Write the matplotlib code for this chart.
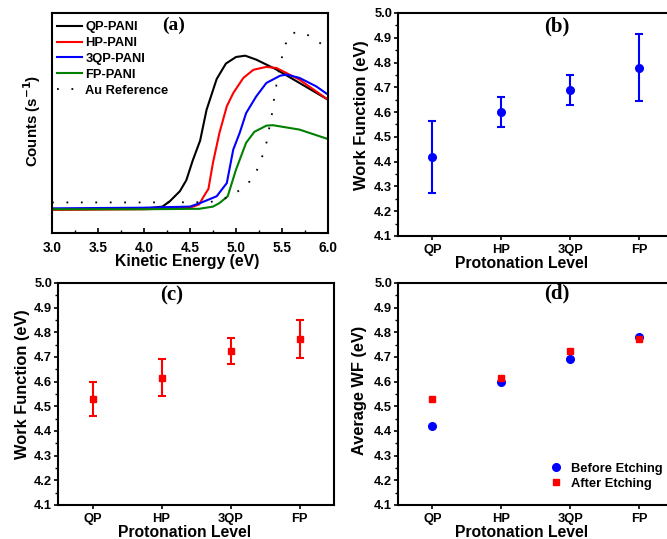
import numpy as np
import matplotlib
matplotlib.use("Agg")
import matplotlib.pyplot as plt
from matplotlib.ticker import MultipleLocator, FormatStrFormatter

plt.rcParams["font.family"] = ["Liberation Sans", "DejaVu Sans"]
plt.rcParams["font.weight"] = "bold"

# ── Panel (a): UPS cut-off spectra (normalised counts) ──
qp_x = [3.0, 4.0, 4.2, 4.28, 4.39, 4.46, 4.53, 4.61, 4.68, 4.79, 4.89, 5.0, 5.1, 5.22, 5.44, 5.69, 6.0]
qp_y = [0.108, 0.11, 0.12, 0.144, 0.19, 0.24, 0.33, 0.42, 0.56, 0.70, 0.77, 0.80, 0.806, 0.788, 0.743, 0.682, 0.606]
hp_x = [3.0, 4.0, 4.5, 4.6, 4.65, 4.7, 4.75, 4.82, 4.9, 4.97, 5.08, 5.19, 5.33, 5.44, 5.69, 6.0]
hp_y = [0.105, 0.108, 0.115, 0.13, 0.167, 0.2, 0.32, 0.455, 0.576, 0.636, 0.705, 0.742, 0.755, 0.75, 0.697, 0.606]
tqp_x = [3.0, 4.0, 4.5, 4.61, 4.79, 4.9, 4.97, 5.04, 5.11, 5.22, 5.33, 5.48, 5.55, 5.69, 5.87, 6.0]
tqp_y = [0.112, 0.115, 0.12, 0.136, 0.167, 0.227, 0.379, 0.455, 0.545, 0.621, 0.682, 0.715, 0.72, 0.705, 0.667, 0.629]
fp_x = [3.0, 4.0, 4.6, 4.75, 4.82, 4.91, 5.0, 5.11, 5.2, 5.33, 5.4, 5.69, 6.0]
fp_y = [0.108, 0.108, 0.11, 0.12, 0.136, 0.167, 0.288, 0.41, 0.46, 0.488, 0.49, 0.47, 0.427]
au_x = [3.0, 4.0, 4.7, 4.85, 5.04, 5.15, 5.23, 5.32, 5.39, 5.41, 5.47, 5.5, 5.54, 5.61, 5.74, 5.86, 5.99]
au_y = [0.139, 0.139, 0.14, 0.15, 0.194, 0.235, 0.288, 0.386, 0.54, 0.60, 0.75, 0.80, 0.86, 0.91, 0.91, 0.88, 0.84]

# ── Panels (b)-(d): work functions ──
levels = ["QP", "HP", "3QP", "FP"]
wf_before = [4.42, 4.60, 4.69, 4.78]
err_before = [0.145, 0.06, 0.06, 0.135]
wf_after = [4.53, 4.615, 4.725, 4.772]
err_after = [0.07, 0.075, 0.053, 0.078]

W, H = 667, 539
fig = plt.figure(figsize=(W / 100, H / 100), dpi=100)


def px_axes(left, top, right, bottom):
    return fig.add_axes([left / W, 1 - bottom / H, (right - left) / W, (bottom - top) / H])


def style_wf(ax, ylabel, tag, tx, ty, xl, yl):
    ax.set_xlim(0.5, 4.5)
    ax.set_ylim(4.1, 5.0)
    ax.set_xticks(range(1, 5))
    ax.set_xticklabels(levels)
    ax.yaxis.set_major_locator(MultipleLocator(0.1))
    ax.yaxis.set_minor_locator(MultipleLocator(0.05))
    ax.yaxis.set_major_formatter(FormatStrFormatter("%.1f"))
    ax.tick_params(axis="both", which="major", direction="out", length=3, width=1.2,
                   labelsize=9.3, pad=2.5)
    ax.tick_params(axis="y", which="major", pad=1.2)
    ax.tick_params(axis="y", which="minor", direction="out", length=2, width=1)
    ax.set_xlabel("Protonation Level", fontsize=11.3, fontweight="bold", va="center")
    ax.set_ylabel(ylabel, fontsize=11.8, fontweight="bold", va="center")
    ax.xaxis.set_label_coords(*xl)
    ax.yaxis.set_label_coords(*yl)
    for s in ax.spines.values():
        s.set_linewidth(1.5)
    ax.text(tx, ty, tag, transform=ax.transAxes, ha="center", va="center",
            fontsize=15, fontweight="bold", family=["Liberation Serif"])


# (a)
ax = px_axes(52, 13, 328, 233)
ax.plot(qp_x, qp_y, color="black", lw=1.5, label="QP-PANI")
ax.plot(hp_x, hp_y, color="#ff0000", lw=1.5, label="HP-PANI")
ax.plot(tqp_x, tqp_y, color="#0000ff", lw=1.5, label="3QP-PANI")
ax.plot(fp_x, fp_y, color="#008000", lw=1.5, label="FP-PANI")
ax.plot(au_x, au_y, color="black", lw=1.3, linestyle=(0, (1, 7)), label="Au Reference")
ax.set_xlim(3.0, 6.0)
ax.set_ylim(0, 1)
ax.set_yticks([])
ax.xaxis.set_major_locator(MultipleLocator(0.5))
ax.xaxis.set_minor_locator(MultipleLocator(0.25))
ax.xaxis.set_major_formatter(FormatStrFormatter("%.1f"))
ax.tick_params(axis="x", which="major", direction="in", length=3.5, width=1.2, labelsize=9.8, pad=6)
ax.tick_params(axis="x", which="minor", direction="in", length=2, width=1)
for s in ax.spines.values():
    s.set_linewidth(1.5)
ax.set_xlabel("Kinetic Energy (eV)", fontsize=11.3, fontweight="bold", va="center")
ax.set_ylabel("Counts (s$^{\\mathbf{-1}}$)", fontsize=10.8, fontweight="bold", va="center")
ax.xaxis.set_label_coords(0.489, -0.13)
ax.yaxis.set_label_coords(-0.072, 0.509)
ax.legend(loc="upper left", frameon=False, handlelength=1.95, handletextpad=0.25,
          labelspacing=0.3, borderpad=0, borderaxespad=0, bbox_to_anchor=(0.018, 0.963),
          prop={"weight": "bold", "size": 9.3})
ax.text(0.44, 0.945, "(a)", transform=ax.transAxes, ha="center", va="center",
        fontsize=14, fontweight="bold", family=["Liberation Serif"])

x = np.arange(1, 5)

# (b)
ax = px_axes(398, 13, 674, 236)
ax.errorbar(x, wf_before, yerr=err_before, fmt="o", color="#0000ff", ms=5.5, capsize=3,
            elinewidth=1.5, capthick=1.5)
style_wf(ax, "Work Function (eV)", "(b)", 0.576, 0.939, (0.449, -0.124), (-0.134, 0.543))

# (c)
ax = px_axes(58, 283, 334, 505)
ax.errorbar(x, wf_after, yerr=err_after, fmt="s", color="#ff0000", ms=5, capsize=3,
            elinewidth=1.5, capthick=1.5)
style_wf(ax, "Work Function (eV)", "(c)", 0.41, 0.946, (0.457, -0.124), (-0.13, 0.545))

# (d)
ax = px_axes(398, 283, 674, 505)
ax.plot(x, wf_before, "o", color="#0000ff", ms=5.5, label="Before Etching")
ax.plot(x, wf_after, "s", color="#ff0000", ms=5, label="After Etching")
style_wf(ax, "Average WF (eV)", "(d)", 0.576, 0.955, (0.449, -0.124), (-0.138, 0.518))
ax.legend(loc="upper left", frameon=False, handlelength=1.0, handletextpad=0.7,
          labelspacing=0.24, borderpad=0, borderaxespad=0,
          bbox_to_anchor=(0.549, 0.19), prop={"weight": "bold", "size": 9.3})

fig.savefig("out.png", dpi=100, facecolor="white")
